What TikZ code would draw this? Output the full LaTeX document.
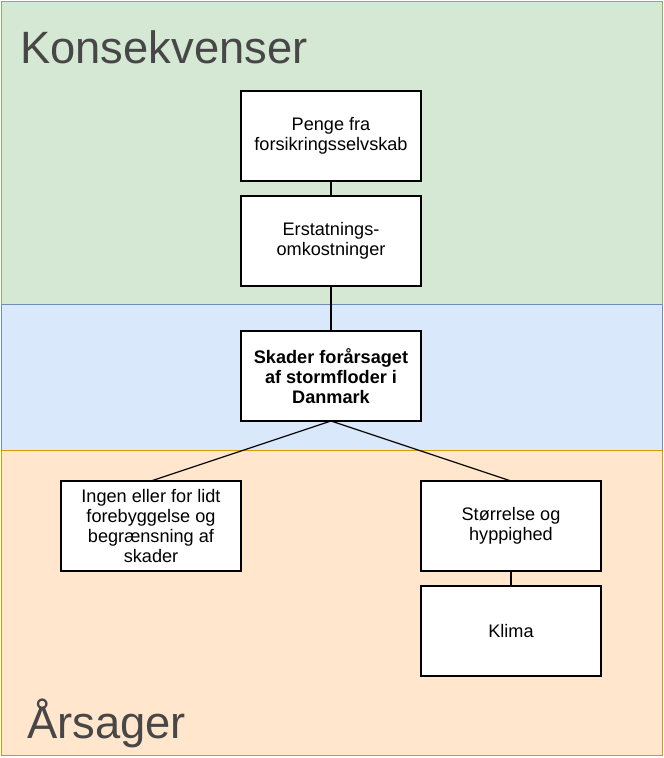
\documentclass[tikz,border=0pt]{standalone}
\usepackage{fontspec}
\setmainfont{Liberation Sans}
\usetikzlibrary{positioning}
\definecolor{konsfill}{HTML}{D5E8D4}
\definecolor{konsdraw}{HTML}{82B366}
\definecolor{skadefill}{HTML}{DAE8FC}
\definecolor{skadedraw}{HTML}{6C8EBF}
\definecolor{aarsfill}{HTML}{FFE6CC}
\definecolor{aarsdraw}{HTML}{D79B00}
\definecolor{titlegray}{HTML}{474747}

\begin{document}
\begin{tikzpicture}[x=0.75pt, y=-0.75pt,
  box/.style={rectangle, draw=black, line width=0.9pt, fill=white,
              minimum width=135pt, minimum height=67.5pt, align=center,
              inner sep=2pt, outer sep=0pt, font=\fontsize{13.6}{15.2}\selectfont},
  band/.style={line width=0.75pt},
  title/.style={anchor=base west, inner sep=0pt, text=titlegray,
                font=\fontsize{34}{40}\selectfont},
  link/.style={line width=0.9pt, black}
]
\useasboundingbox (0,0) rectangle (664,758);
% baggrund
\draw[band, draw=konsdraw, fill=konsfill] (1,1) rectangle (662,304);
\draw[band, draw=skadedraw, fill=skadefill] (1,304) rectangle (662,450);
\draw[band, draw=aarsdraw, fill=aarsfill] (1,450) rectangle (662,755);
\node[title] (konsekvenser) at (20,63) {Konsekvenser};
\node[title] (aarsager) at (27,738) {Årsager};

\node[box] (penge) at (331,136) {Penge fra\\forsikringsselvskab};
\node[box, below=11.25pt of penge] (erstatning) {Erstatnings-\\omkostninger};
\node[box, below=33.75pt of erstatning, font={\fontsize{13.6}{15.2}\selectfont\bfseries}] (skader)
      {Skader forårsaget\\af stormfloder i\\Danmark};
\node[box, below=45pt of skader, xshift=-135pt] (ingen)
      {Ingen eller for lidt\\forebyggelse og\\begrænsning af\\skader};
\node[box, below=45pt of skader, xshift=135pt] (stoerrelse) {Størrelse og\\hyppighed};
\node[box, below=11.25pt of stoerrelse] (klima) {Klima};

\draw[link] (penge) -- (erstatning);
\draw[link] (erstatning) -- (skader);
\draw[link] (skader.south) -- (ingen.north);
\draw[link] (skader.south) -- (stoerrelse.north);
\draw[link] (stoerrelse) -- (klima);
\end{tikzpicture}
\end{document}
